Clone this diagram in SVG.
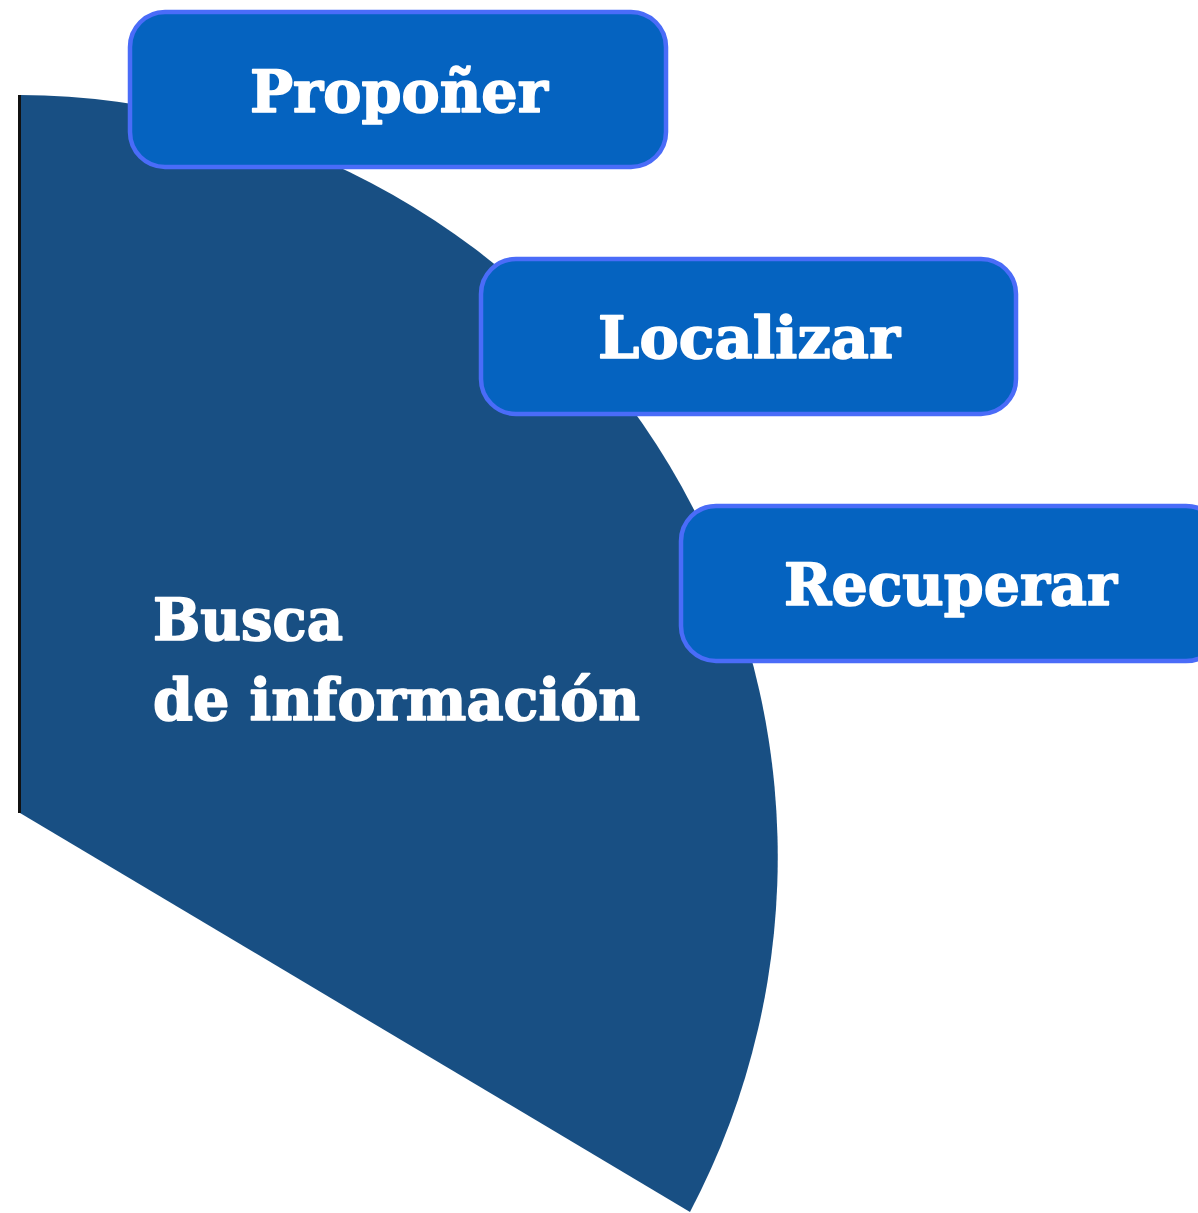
<svg xmlns="http://www.w3.org/2000/svg" width="1198" height="1213" viewBox="0 0 1198 1213">
<style>
.box{fill:#0563c0;stroke:#4a6cf8;stroke-width:4.5}
.lbl{font-family:"DejaVu Serif","Liberation Serif",serif;font-weight:bold;fill:#ffffff;stroke:#ffffff;stroke-width:1.6;stroke-linejoin:round;font-size:58px}
</style>
<rect width="1198" height="1213" fill="#ffffff"/>
<g id="sector">
<path d="M20,95 A762,762 0 0,1 690,1212 L20,813 Z" fill="#184f83"/>
<line x1="19.5" y1="95" x2="19.5" y2="813" stroke="#111" stroke-width="3"/>
<text class="lbl" x="153" y="640" textLength="190" lengthAdjust="spacingAndGlyphs">Busca</text>
<text class="lbl" x="153" y="720" textLength="487" lengthAdjust="spacingAndGlyphs">de información</text>
</g>
<g id="connectors"></g>
<g id="node-proponer">
<rect class="box" x="130" y="12" width="536" height="155" rx="35"/>
<text class="lbl" x="250" y="112" textLength="298" lengthAdjust="spacingAndGlyphs">Propoñer</text>
</g>
<g id="node-localizar">
<rect class="box" x="481" y="259" width="535" height="155" rx="35"/>
<text class="lbl" x="598" y="358" textLength="302" lengthAdjust="spacingAndGlyphs">Localizar</text>
</g>
<g id="node-recuperar">
<rect class="box" x="681" y="506" width="540" height="155" rx="35"/>
<text class="lbl" x="784" y="605" textLength="333" lengthAdjust="spacingAndGlyphs">Recuperar</text>
</g>
</svg>
